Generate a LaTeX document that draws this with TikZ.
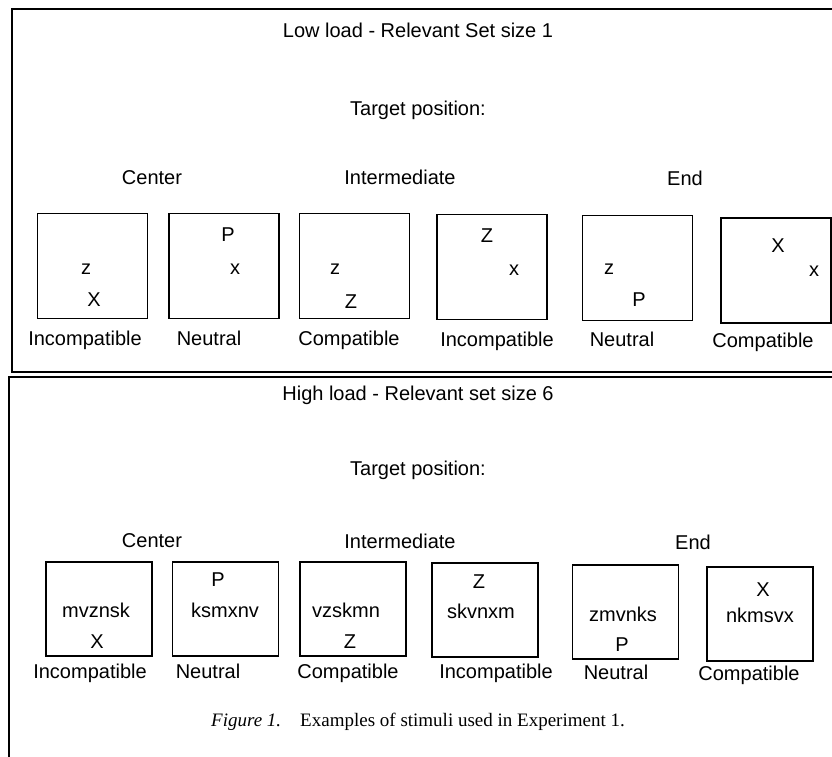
\documentclass[tikz,border=0pt]{standalone}
\usepackage{fontspec}
\setmainfont{Liberation Sans}
\newfontfamily\capserif{Liberation Serif}
\begin{document}
\begin{tikzpicture}[x=1pt, y=-1pt,
        every node/.style={inner sep=0pt, font=\fontsize{20}{24}\selectfont},
        lab/.style={anchor=base},
        frame/.style={line width=2.4pt},
        stimlow/.style={draw, line width=1.4pt, minimum width=110pt, minimum height=105pt},
        stimhigh/.style={draw, line width=1.4pt, minimum width=106pt, minimum height=94pt}
        ]
        \useasboundingbox (0,0) rectangle (832,756);
        \begin{scope}
        \clip (0,0) rectangle (832,756);
        \draw[frame] (840,9) -- (12,9) -- (12,372) -- (840,372);
        \draw[frame] (840,377) -- (9,377) -- (9,760);
        \end{scope}
        % low load panel
        \node (lowtitle) at (418,30) {Low load - Relevant Set size 1};
        \node (lowtarget) at (418,110) {Target position:};
        \node[lab] (lowcenter) at (152,184) {Center};
        \node[lab] (lowinter) at (400,184) {Intermediate};
        \node[lab] (lowend) at (685,185) {End};
        \node[stimlow] (la) at (92.5,266) {};
        \node[stimlow] (lb) at (224,266) {};
        \node[stimlow] (lc) at (354.5,266) {};
        \node[stimlow] (ld) at (492,267) {};
        \node[stimlow] (le) at (637.5,268) {};
        \node[stimlow] (lf) at (776,270.5) {};
        \node (laz) at (86,269) {z};
        \node (lax) at (94,300) {X};
        \node (lbp) at (228,235) {P};
        \node (lbx) at (235,269) {x};
        \node (lcz) at (335,269) {z};
        \node (lcZ) at (351,302) {Z};
        \node (ldZ) at (487,236) {Z};
        \node (ldx) at (514,270) {x};
        \node (lez) at (609,269) {z};
        \node (lep) at (639,300) {P};
        \node (lfX) at (778,246) {X};
        \node (lfx) at (814,271) {x};
        \node[lab] (lalab) at (85,345) {Incompatible};
        \node[lab] (lblab) at (209,345) {Neutral};
        \node[lab] (lclab) at (349,345) {Compatible};
        \node[lab] (ldlab) at (497,346) {Incompatible};
        \node[lab] (lelab) at (622,346) {Neutral};
        \node[lab] (lflab) at (763,347) {Compatible};
        % high load panel
        \node (hightitle) at (418,395) {High load - Relevant set size 6};
        \node (hightarget) at (418,470) {Target position:};
        \node[lab] (highcenter) at (152,547) {Center};
        \node[lab] (highinter) at (400,548) {Intermediate};
        \node[lab] (highend) at (693,549) {End};
        \node[stimhigh] (ha) at (99,609) {};
        \node[stimhigh] (hb) at (225.5,609) {};
        \node[stimhigh] (hc) at (353,609) {};
        \node[stimhigh] (hd) at (485,610) {};
        \node[stimhigh] (he) at (625.5,612) {};
        \node[stimhigh] (hf) at (760,614) {};
        \node (hastr) at (96,610) {mvznsk};
        \node (hatgt) at (97,642) {X};
        \node (hbtgt) at (218,580) {P};
        \node (hbstr) at (225,610) {ksmxnv};
        \node (hcstr) at (346,610) {vzskmn};
        \node (hctgt) at (350,642) {Z};
        \node (hdtgt) at (479,582) {Z};
        \node (hdstr) at (481,611) {skvnxm};
        \node (hestr) at (623,614) {zmvnks};
        \node (hetgt) at (622,645) {P};
        \node (hftgt) at (763,590) {X};
        \node (hfstr) at (760,615) {nkmsvx};
        \node[lab] (halab) at (90,678) {Incompatible};
        \node[lab] (hblab) at (208,678) {Neutral};
        \node[lab] (hclab) at (348,678) {Compatible};
        \node[lab] (hdlab) at (496,678) {Incompatible};
        \node[lab] (helab) at (616,679) {Neutral};
        \node[lab] (hflab) at (749,680) {Compatible};
        \node[font=\capserif\fontsize{19}{23}\selectfont] (caption) at (418,722)
            {\textit{Figure 1.}\quad Examples of stimuli used in Experiment 1.};
    \end{tikzpicture}
\end{document}
